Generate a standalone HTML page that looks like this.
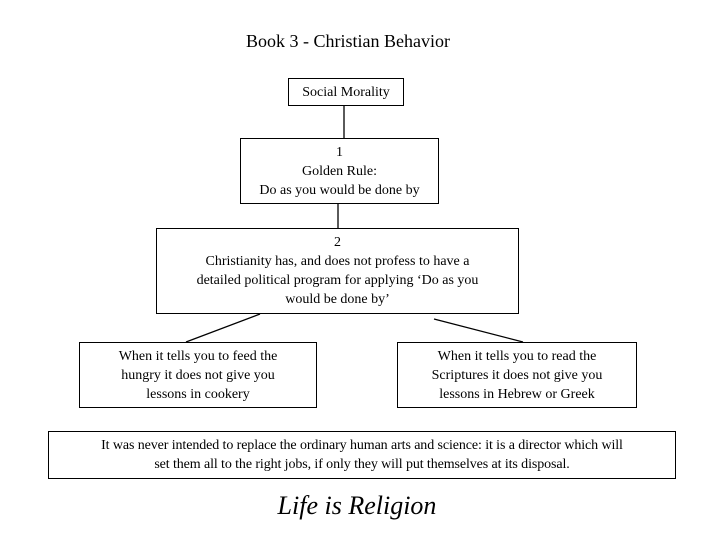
<!DOCTYPE html>
<html><head><style>
body{margin:0;width:720px;height:540px;background:#fff;position:relative;font-family:"Liberation Serif",serif;color:#000;overflow:hidden}
.b{position:absolute;border:1px solid #000;box-sizing:border-box;display:flex;align-items:center;justify-content:center;text-align:center;font-size:14px;line-height:19px}
.t{position:absolute;text-align:center}
</style></head><body>
<div class="t" style="left:0;width:696px;top:31px;font-size:18px">Book 3 - Christian Behavior</div>
<div class="b" style="left:288px;top:78px;width:116px;height:28px">Social Morality</div>
<div class="b" style="left:240px;top:138px;width:199px;height:66px">1<br>Golden Rule:<br>Do as you would be done by</div>
<div class="b" style="left:156px;top:228px;width:363px;height:86px">2<br>Christianity has, and does not profess to have a<br>detailed political program for applying ‘Do as you<br>would be done by’</div>
<div class="b" style="left:79px;top:342px;width:238px;height:66px">When it tells you to feed the<br>hungry it does not give you<br>lessons in cookery</div>
<div class="b" style="left:397px;top:342px;width:240px;height:66px">When it tells you to read the<br>Scriptures it does not give you<br>lessons in Hebrew or Greek</div>
<div class="b" style="left:48px;top:431px;width:628px;height:48px;letter-spacing:-0.1px">It was never intended to replace the ordinary human arts and science: it is a director which will<br>set them all to the right jobs, if only they will put themselves at its disposal.</div>
<div class="t" style="left:0;width:714px;top:491px;font-size:26px;font-style:italic">Life is Religion</div>
<svg width="720" height="540" style="position:absolute;left:0;top:0">
<g stroke="#000" stroke-width="1.3">
<line x1="344" y1="106" x2="344" y2="138"/>
<line x1="338" y1="204" x2="338" y2="228"/>
<line x1="260" y1="314" x2="186" y2="342"/>
<line x1="434" y1="319" x2="523" y2="342"/>
</g></svg>
</body></html>
